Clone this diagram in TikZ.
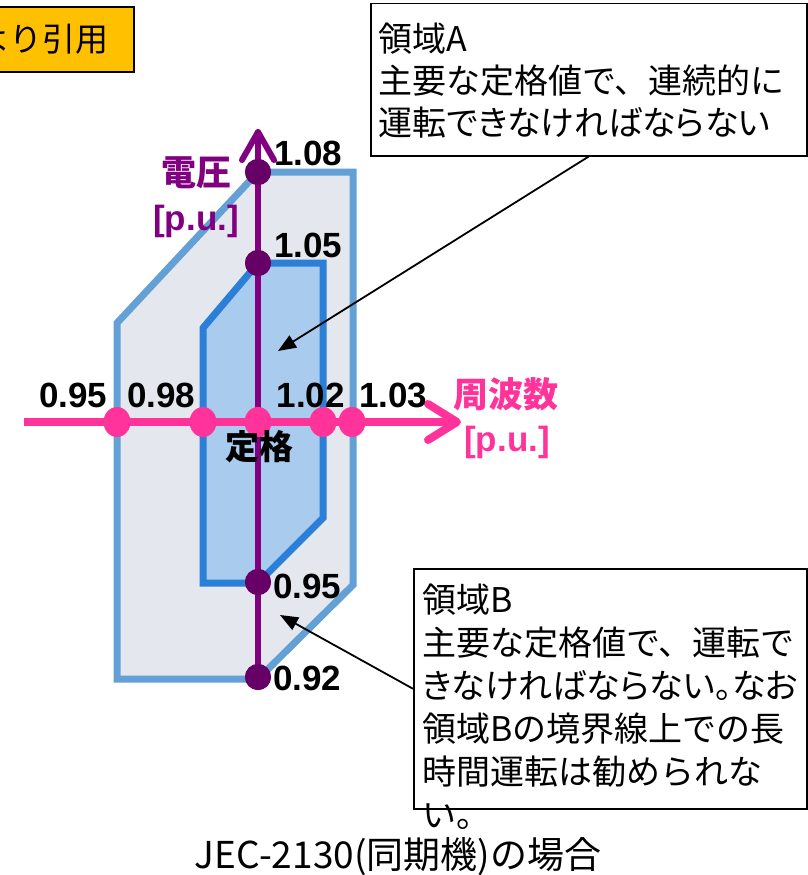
\documentclass[tikz,border=0pt]{standalone}
\usepackage{fontspec}
\newfontfamily\jp{Noto Sans CJK JP}
\newfontfamily\jpp{Noto Sans CJK JP}[RawFeature=+palt]
\newfontfamily\arb{Liberation Sans}
\usetikzlibrary{arrows.meta,shapes.geometric}
\definecolor{vpurple}{HTML}{800080}
\definecolor{vdot}{HTML}{660066}
\definecolor{fpink}{HTML}{FF3399}
\definecolor{outerline}{HTML}{62A0D6}
\definecolor{outerfill}{HTML}{E4E8EE}
\definecolor{innerline}{HTML}{2B7FD6}
\definecolor{innerfill}{HTML}{A9CBEE}
\definecolor{tagorange}{HTML}{FFC000}
\tikzset{
  numlabel/.style={font={\arb\bfseries\fontsize{35}{40}\selectfont}, inner sep=0pt},
  vlabel/.style={inner sep=0pt, text=vpurple},
  flabel/.style={inner sep=0pt, text=fpink},
  vdotnode/.style={circle, fill=vdot, minimum size=26pt, inner sep=0pt},
  fdotnode/.style={ellipse, fill=fpink, minimum width=27pt, minimum height=30pt, inner sep=0pt},
  vaxis/.style={draw=vpurple, line width=6pt, line cap=round, line join=round},
  faxis/.style={draw=fpink, line width=8pt, line join=round},
  fhead/.style={draw=fpink, line width=8pt, line cap=round, line join=round},
  outerreg/.style={draw=outerline, fill=outerfill, line width=7pt, line join=miter},
  innerreg/.style={draw=innerline, fill=innerfill, line width=7pt, line join=miter},
  notebox/.style={draw=black, line width=1.5pt, fill=white, inner sep=0pt, anchor=north west},
  notetext/.style={inner sep=0pt, anchor=base west},
  annot/.style={draw=black, line width=1.8pt, -{Triangle[length=18pt, width=14pt]}},
}
\begin{document}
\begin{tikzpicture}[x=1pt, y=-1pt]
\useasboundingbox (0,0) rectangle (808,875);

% source tag (clipped at left edge, as in the reference)
\node[draw=black, line width=1.8pt, fill=tagorange, minimum width=220pt, minimum height=65pt, inner sep=0pt, anchor=north east] (tag) at (135,6) {};
\node[inner sep=0pt, anchor=base east, font={\jp\fontsize{33}{33}\selectfont}] (tagtext) at (109,52) {より引用};

% operating regions
\draw[outerreg] (258,172) -- (353,172) -- (353,585) -- (258,679) -- (117,679) -- (117,323) -- cycle;
\draw[innerreg] (258,263) -- (323,263) -- (323,518) -- (258,583) -- (203,583) -- (203,328) -- cycle;

% voltage axis
\node[vdotnode] (v108) at (258,172) {};
\node[vdotnode] (v105) at (258,263) {};
\node[vdotnode] (v095) at (258,582) {};
\node[vdotnode] (v092) at (258,677) {};
\coordinate (vtip) at (258,132);
\coordinate (vl) at (242,160);
\coordinate (vr) at (274,160);
\draw[vaxis] (v092.center) -- (vtip);
\draw[vaxis] (vl) -- (vtip) -- (vr);

% frequency axis
\coordinate (fstart) at (24,422);
\coordinate (ftip) at (457,422);
\coordinate (fu) at (428,404);
\coordinate (fd) at (428,440);
\draw[faxis] (fstart) -- (ftip);
\draw[fhead] (fu) -- (ftip) -- (fd);
\node[fdotnode] (f095) at (117,422) {};
\node[fdotnode] (f098) at (203,422) {};
\node[fdotnode] (frat) at (258,422) {};
\node[fdotnode] (f102) at (323,422) {};
\node[fdotnode] (f103) at (352,422) {};

% voltage dots on top of the axis line
\node[vdotnode] at (v108.center) {};
\node[vdotnode] at (v105.center) {};
\node[vdotnode] at (v095.center) {};
\node[vdotnode] at (v092.center) {};

% voltage labels
\node[numlabel, anchor=base west] (l108) at (274,165) {1.08};
\node[numlabel, anchor=base west] (l105) at (274,257) {1.05};
\node[numlabel, anchor=base west] (lv095) at (273,598) {0.95};
\node[numlabel, anchor=base west] (lv092) at (273,690) {0.92};
\node[vlabel, anchor=base, font={\jp\bfseries\fontsize{35}{35}\selectfont}] (vname) at (196,185) {電圧};
\node[vlabel, anchor=base, font={\arb\bfseries\fontsize{35}{35}\selectfont}] (vunit) at (196,230) {[p.u.]};

% frequency labels
\node[numlabel, anchor=base west] (lf095) at (39,407) {0.95};
\node[numlabel, anchor=base west] (lf098) at (127,407) {0.98};
\node[numlabel, anchor=base east] (lf102) at (345,407) {1.02};
\node[numlabel, anchor=base west] (lf103) at (359,407) {1.03};
\node[inner sep=0pt, anchor=base, font={\jp\bfseries\fontsize{34}{34}\selectfont}] (rated) at (259,459) {定格};
\node[flabel, anchor=base, font={\jp\bfseries\fontsize{35}{35}\selectfont}] (fname) at (506,407) {周波数};
\node[flabel, anchor=base, font={\arb\bfseries\fontsize{35}{35}\selectfont}] (funit) at (507,451) {[p.u.]};

% note boxes
\node[notebox, minimum width=436pt, minimum height=152pt] (boxA) at (370,3) {};
\node[notetext] (textA) at (378,52) {\parbox[t]{425pt}{\jp\fontsize{34}{42}\selectfont\raggedright
領域A\\主要な定格値で、連続的に\\{\jpp 運転できなければならない}}};
\node[notebox, minimum width=393pt, minimum height=240pt] (boxB) at (413,568) {};
\node[notetext] (textB) at (422,612) {\parbox[t]{390pt}{\jp\fontsize{34}{43}\selectfont\raggedright
領域B\\主要な定格値で、運転で\\{\jpp きなければならない。なお}\\領域Bの境界線上での長\\時間運転は勧められな\\い。}};

% annotation arrows
\coordinate (ptA) at (278,351);
\coordinate (ptB) at (280,615);
\draw[annot] (boxA.south) -- (ptA);
\draw[annot] (boxB.west) -- (ptB);

% caption
\node[inner sep=0pt, anchor=base, font={\jp\fontsize{37}{37}\selectfont}] (caption) at (398,868) {JEC-2130(同期機)の場合};
\end{tikzpicture}
\end{document}
